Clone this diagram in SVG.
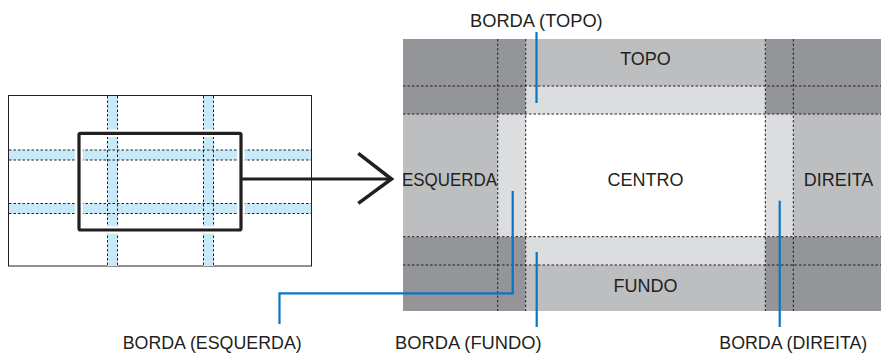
<svg xmlns="http://www.w3.org/2000/svg" width="881" height="355" viewBox="0 0 881 355">
<style>
.t{font-family:"Liberation Sans",Arial,sans-serif;font-size:18px;fill:#231f20}
.dot{stroke:#231f20;stroke-width:1;stroke-dasharray:2.5 2;fill:none}
.band{fill:#c7e9f8}
.blue{stroke:#0a75c2;stroke-width:2.2;fill:none}
.dk{fill:#939598}.md{fill:#bcbec0}.lt{fill:#dcdddf}
</style>
<rect width="881" height="355" fill="#ffffff"/>
<g id="screen">
<rect x="8.5" y="95.5" width="303" height="170.5" fill="#fff" stroke="#231f20" stroke-width="1"/>
<rect class="band" x="107.5" y="96" width="10" height="170"/>
<rect class="band" x="203.5" y="96" width="10" height="170"/>
<rect class="band" x="9" y="150" width="302" height="10"/>
<rect class="band" x="9" y="203.5" width="302" height="10"/>
<path class="dot" d="M107.5 96V266M117.5 96V266M203.5 96V266M213.5 96V266M9 150H311M9 160H311M9 203.5H311M9 213.5H311"/>
<rect x="79" y="133.3" width="162" height="96.7" rx="1.5" fill="none" stroke="#fff" stroke-width="7.5"/>
<rect x="79" y="133.3" width="162" height="96.7" rx="1.5" fill="none" stroke="#231f20" stroke-width="3.2"/>
</g>
<g id="panel">
<rect class="dk" x="403" y="39" width="122.7" height="75"/>
<rect class="dk" x="765.3" y="39" width="115.7" height="75"/>
<rect class="dk" x="403" y="236.7" width="122.7" height="74.3"/>
<rect class="dk" x="765.3" y="236.7" width="115.7" height="74.3"/>
<rect class="md" x="525.7" y="39" width="239.6" height="47"/>
<rect class="md" x="525.7" y="265" width="239.6" height="46"/>
<rect class="md" x="403" y="114" width="94.7" height="122.7"/>
<rect class="md" x="793.3" y="114" width="87.7" height="122.7"/>
<rect class="lt" x="525.7" y="86" width="239.6" height="28"/>
<rect class="lt" x="525.7" y="236.7" width="239.6" height="28.3"/>
<rect class="lt" x="497.7" y="114" width="28" height="122.7"/>
<rect class="lt" x="765.3" y="114" width="28" height="122.7"/>
<path class="dot" d="M403 86H881M403 114H881M403 236.7H881M403 265H881M497.7 39V311M525.7 39V311M765.3 39V311M793.3 39V311"/>
</g>
<g id="connectors">
<path d="M241 179H390" stroke="#231f20" stroke-width="3" fill="none"/>
<path d="M358.3 153.3L391.5 179L358.3 203.3" stroke="#231f20" stroke-width="3.5" fill="none" stroke-linejoin="miter" stroke-linecap="butt"/>
<path class="blue" d="M536.5 32V103"/>
<path class="blue" d="M512.7 191V293.3H279.5V324"/>
<path class="blue" d="M536.7 252V327"/>
<path class="blue" d="M779.7 200.7V327"/>
</g>
<g id="labels">
<text class="t" x="645.5" y="65" text-anchor="middle">TOPO</text>
<text class="t" x="645.5" y="186" text-anchor="middle">CENTRO</text>
<text class="t" x="402" y="186" textLength="95" lengthAdjust="spacingAndGlyphs">ESQUERDA</text>
<text class="t" x="838.5" y="186" text-anchor="middle">DIREITA</text>
<text class="t" x="645.5" y="292" text-anchor="middle">FUNDO</text>
<text class="t" x="470" y="27" textLength="132.7" lengthAdjust="spacingAndGlyphs">BORDA (TOPO)</text>
<text class="t" x="122.7" y="349" textLength="179" lengthAdjust="spacingAndGlyphs">BORDA (ESQUERDA)</text>
<text class="t" x="395" y="349" textLength="146.7" lengthAdjust="spacingAndGlyphs">BORDA (FUNDO)</text>
<text class="t" x="719.3" y="349" textLength="148" lengthAdjust="spacingAndGlyphs">BORDA (DIREITA)</text>
</g>
</svg>
